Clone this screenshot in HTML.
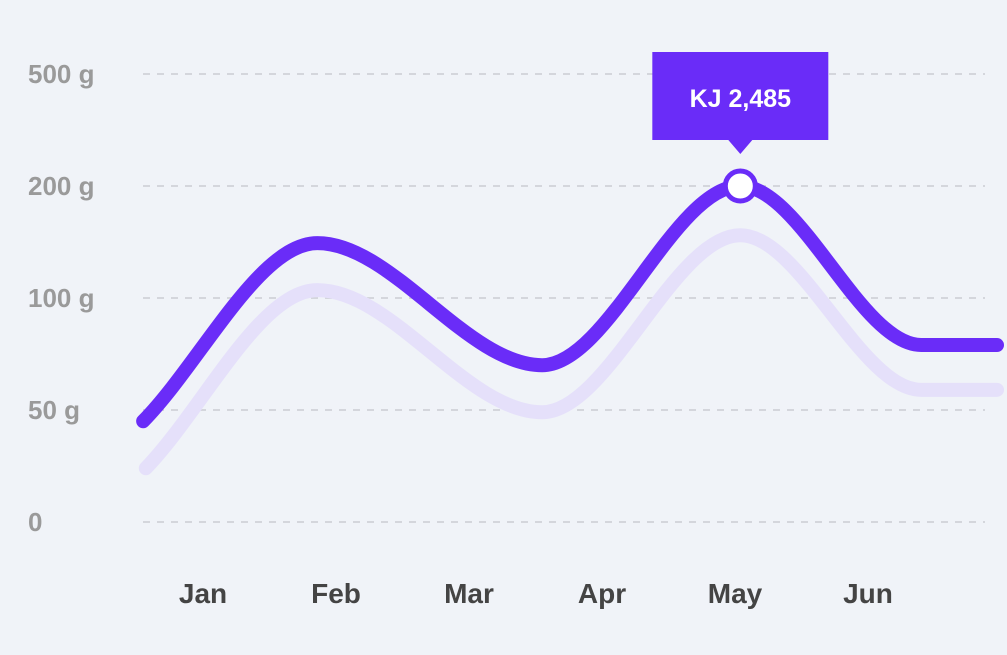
<!DOCTYPE html>
<html><head><meta charset="utf-8"><style>
html,body{margin:0;padding:0;background:#f0f3f8;}
svg{display:block;font-family:"Liberation Sans",sans-serif;}
</style></head><body>
<svg id="chart" width="1007" height="655" viewBox="0 0 1007 655">
<rect width="1007" height="655" fill="#f0f3f8"/>
<g id="grid"></g>
<g id="ylabels"></g>
<g id="xlabels"></g>
<g id="series"></g>
<g id="tip"></g>
</svg>
<script>
const yTickValues=[0,50,100,200,500];
const yTickLabels=["0","50 g","100 g","200 g","500 g"];
const months=["Jan","Feb","Mar","Apr","May","Jun"];
const mainX=[-0.45,0.86,2.55,4.04,5.4,5.97];
const mainY=[45,149,70,200,79,79];
const lightX=[-0.43,0.86,2.55,4.04,5.4,5.97];
const lightY=[24,107,49,156,59,59];
const tipIndex=3;
const tipLabel="KJ 2,485";

const NS="http://www.w3.org/2000/svg";
function mk(t,a,p){const e=document.createElementNS(NS,t);for(const k in a)e.setAttribute(k,a[k]);p.appendChild(e);return e;}
const yPix=[522,410,298,186,74];
function yS(v){for(let i=0;i<yTickValues.length-1;i++){if(v<=yTickValues[i+1]||i===yTickValues.length-2){const a=yTickValues[i],b=yTickValues[i+1];return yPix[i]+(v-a)/(b-a)*(yPix[i+1]-yPix[i]);}}}
function xS(i){return 203+i*133;}

const grid=document.getElementById('grid'),yl=document.getElementById('ylabels'),xl=document.getElementById('xlabels');
yTickValues.forEach((v,i)=>{
 const l=mk('line',{x1:143,x2:985,y1:yS(v),y2:yS(v),stroke:'#d4d6dc','stroke-width':2,'stroke-dasharray':'7 7'},grid);
 
 
 const t=mk('text',{x:28,y:yS(v)+9,fill:'#9a9a9a','font-size':26,'font-weight':'bold'},yl);
 t.textContent=yTickLabels[i];
 
 
});
months.forEach((m,i)=>{
 const t=mk('text',{x:xS(i),y:603,fill:'#444','font-size':28,'font-weight':'bold','text-anchor':'middle'},xl);
 t.textContent=m;
 
 
});
function monoPath(xs,ys){
 const n=xs.length,d=[],m=[];
 for(let i=0;i<n-1;i++)d.push((ys[i+1]-ys[i])/(xs[i+1]-xs[i]));
 for(let i=0;i<n;i++){
  if(i===0)m.push(d[0]);else if(i===n-1)m.push(d[n-2]);
  else m.push(d[i-1]*d[i]<=0?0:(d[i-1]+d[i])/2);
 }
 for(let i=0;i<n-1;i++){if(d[i]===0){m[i]=0;m[i+1]=0;}}
 let p='M'+xs[0]+','+ys[0];
 for(let i=0;i<n-1;i++){const h=xs[i+1]-xs[i];
  p+=' C'+(xs[i]+h/3)+','+(ys[i]+m[i]*h/3)+' '+(xs[i+1]-h/3)+','+(ys[i+1]-m[i+1]*h/3)+' '+xs[i+1]+','+ys[i+1];}
 return p;
}
const ser=document.getElementById('series');
const lp=mk('path',{d:monoPath(lightX.map(xS),lightY.map(yS)),fill:'none',stroke:'#e5e0fa','stroke-width':14,'stroke-linecap':'round'},ser);


const mp=mk('path',{d:monoPath(mainX.map(xS),mainY.map(yS)),fill:'none',stroke:'#6a2cf8','stroke-width':14,'stroke-linecap':'round'},ser);


const tip=document.getElementById('tip');
const tx=xS(mainX[tipIndex]),ty=yS(mainY[tipIndex]);
const box=mk('path',{d:`M${tx-88},52 H${tx+88} V140 H${tx+12} L${tx},154 L${tx-12},140 H${tx-88} Z`,fill:'#6a2cf8'},tip);


const tt=mk('text',{x:tx,y:107,fill:'#fff','font-size':25,'font-weight':'bold','text-anchor':'middle'},tip);
tt.textContent=tipLabel;


const c=mk('circle',{cx:tx,cy:ty,r:15,fill:'#fff',stroke:'#6a2cf8','stroke-width':5},tip);


</script>
</body></html>
